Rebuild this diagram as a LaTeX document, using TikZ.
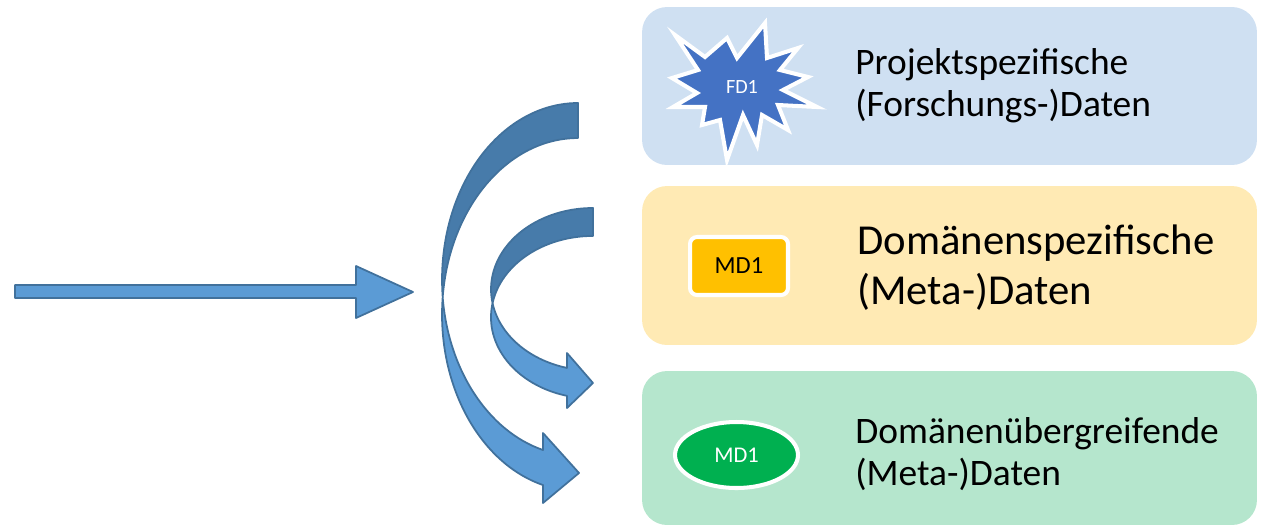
\documentclass[tikz,border=0pt]{standalone}
\usepackage{fontspec}
\setmainfont{Carlito}
\usetikzlibrary{shapes.geometric}
\definecolor{projBg}{RGB}{207,224,242}
\definecolor{domBg}{RGB}{255,234,180}
\definecolor{crossBg}{RGB}{181,230,205}
\definecolor{starBlue}{RGB}{68,114,196}
\definecolor{mdOrange}{RGB}{255,192,0}
\definecolor{mdGreen}{RGB}{0,176,80}
\definecolor{arrowLight}{RGB}{91,155,213}
\definecolor{arrowDark}{RGB}{71,123,170}
\definecolor{arrowEdge}{RGB}{65,113,156}
\tikzstyle{panel}=[rounded corners=0.5cm, minimum width=12.3cm, inner sep=0]
\tikzstyle{paneltext}=[anchor=west, align=left, inner sep=0, text=black]
\tikzstyle{badge}=[draw=white, line width=2.3pt, inner sep=0]
\tikzstyle{front}=[fill=arrowLight, draw=arrowEdge, line width=1pt, line join=round]
\tikzstyle{back}=[fill=arrowDark, draw=arrowEdge, line width=1pt, line join=round]

\begin{document}
\begin{tikzpicture}[x=0.02cm, y=-0.02cm]
      \useasboundingbox (0,0) rectangle (1263,528);

      % panels
      \node[panel, fill=projBg, minimum height=3.16cm] (projBox) at (949.5,86) {};
      \node[panel, fill=domBg, minimum height=3.18cm] (domBox) at (949.5,265.5) {};
      \node[panel, fill=crossBg, minimum height=3.08cm] (crossBox) at (949.5,448) {};

      \node[paneltext, font=\fontsize{21.3}{24}\selectfont] (projText) at (855,86) {Projektspezifische\\(Forschungs-)Daten};
      \node[paneltext, font=\fontsize{24.3}{28.4}\selectfont] (domText) at (857,268) {Domänenspezifische\\(Meta-)Daten};
      \node[paneltext, font=\fontsize{21.3}{24}\selectfont] (crossText) at (855,454) {Domänenübergreifende\\(Meta-)Daten};

      % badges
      \path[badge, fill=starBlue, line join=miter] (675,35) -- (705,57) -- (727,38) -- (737,58) -- (765,23) -- (767,58)
        -- (798,48) -- (780,70) -- (808,77) -- (783,90) -- (817,107) -- (778,105) -- (788,130) -- (762,115)
        -- (757,145) -- (743,115) -- (727,160) -- (720,120) -- (702,125) -- (705,107) -- (673,107) -- (697,93)
        -- (672,78) -- (698,70) -- cycle;
      \node[text=white, font=\fontsize{11.5}{13}\selectfont] (fdStar) at (742,87) {FD1};
      \node[badge, rectangle, rounded corners=4pt, fill=mdOrange, minimum width=1.96cm, minimum height=1.16cm,
        text=black, font=\fontsize{14}{16}\selectfont] (mdRect) at (739,266) {MD1};
      \node[badge, ellipse, fill=mdGreen, minimum width=2.46cm, minimum height=1.32cm,
        text=white, font=\fontsize{12.8}{15}\selectfont] (mdOval) at (736.5,455) {MD1};

      % straight arrow
      \coordinate (inTip) at (413,292);
      \path[front] (15,285) -- (356,285) -- (356,266) -- (inTip) -- (356,318) -- (356,298) -- (15,298) -- cycle;

      % large curved arrow
      \coordinate (bigTop) at (578,103);
      \coordinate (bigMid) at (442.7,297);
      \coordinate (bigTip) at (579,473);
      \path[back] (bigTop) arc[start angle=90, end angle=185.7, x radius=2.72cm, y radius=3.53cm]
        arc[start angle=174.3, end angle=90, x radius=2.72cm, y radius=3.53cm] -- cycle;
      \path[front] (bigMid) arc[start angle=174.3, end angle=255.1, x radius=2.72cm, y radius=3.53cm]
        -- (543,503) -- (bigTip) -- (543,433) -- (543,450)
        arc[start angle=255.1, end angle=185.7, x radius=2.72cm, y radius=3.53cm] -- cycle;

      % small curved arrow
      \coordinate (smallTop) at (593,208);
      \coordinate (smallMid) at (492.5,303.3);
      \coordinate (smallTip) at (593,383);
      \path[back] (smallTop) arc[start angle=90, end angle=189.9, x radius=2.04cm, y radius=1.626cm]
        arc[start angle=170.1, end angle=90, x radius=2.04cm, y radius=1.626cm] -- cycle;
      \path[front] (smallMid) arc[start angle=170.1, end angle=255.2, x radius=2.04cm, y radius=1.626cm]
        -- (567,408) -- (smallTip) -- (567,353) -- (567,367.9)
        arc[start angle=255.2, end angle=189.9, x radius=2.04cm, y radius=1.626cm] -- cycle;
\end{tikzpicture}
\end{document}
